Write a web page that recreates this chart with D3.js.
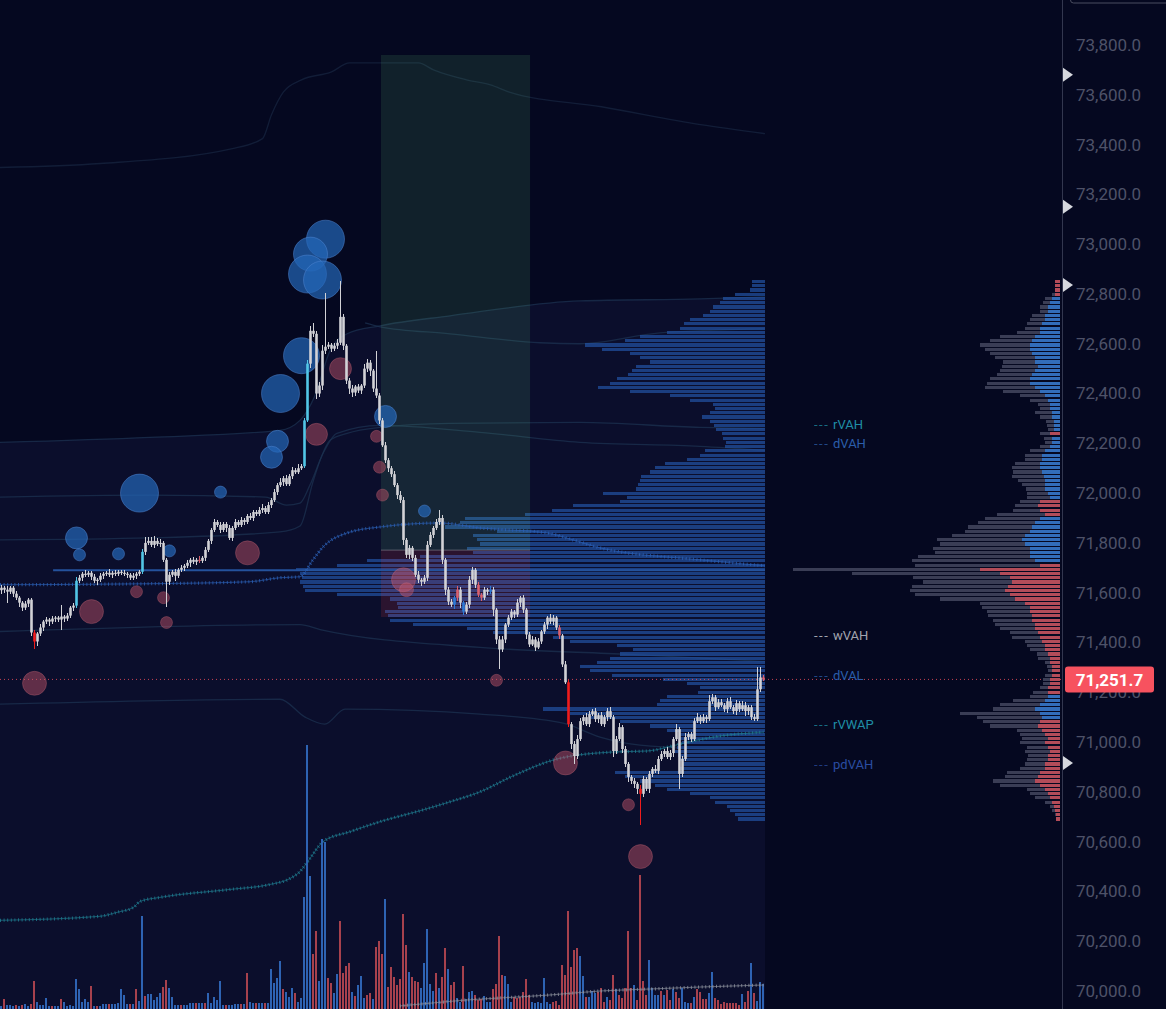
<!DOCTYPE html>
<html lang="en">
<head>
<meta charset="UTF-8">
<title>Session profile chart</title>
<script src="https://d3js.org/d3.v7.min.js"></script>
<style>
  html, body { margin: 0; padding: 0; background: #050820; }
  svg { display: block; }
</style>
</head>
<body>
<div id="chart"></div>
<script>
// ---------- data ----------
var firstOpen = 71610;
var closes = [
  71620,71612,71604,71620,71596,71580,71560,71540,71556,71572,
  71440,71404,71436,71460,71484,71492,71484,71496,71500,71492,
  71504,71496,71508,71540,71548,71648,71660,71676,71672,71680,
  71664,71648,71652,71668,71676,71680,71672,71680,71676,71684,
  71680,71676,71672,71660,71668,71676,71684,71764,71800,71808,
  71792,71808,71796,71800,71732,71644,71672,71684,71668,71692,
  71700,71708,71720,71732,71724,71732,71728,71740,71772,71808,
  71852,71884,71872,71852,71876,71860,71820,71860,71884,71872,
  71892,71884,71908,71900,71924,71916,71932,71940,71924,71952,
  71972,72004,72032,72044,72060,72036,72068,72092,72084,72100,
  72108,72292,72520,72652,72640,72400,72432,72572,72588,72596,
  72580,72592,72604,72708,72592,72452,72420,72404,72428,72412,
  72432,72500,72524,72492,72420,72392,72292,72192,72132,72100,
  72076,72032,71992,71972,71812,71752,71780,71740,71672,71652,
  71644,71660,71792,71832,71860,71884,71900,71732,71612,71564,
  71552,71580,71612,71560,71524,71552,71652,71692,71632,71592,
  71580,71612,71604,71612,71532,71412,71372,71412,71472,71500,
  71524,71512,71560,71580,71532,71432,71392,71412,71380,71404,
  71444,71472,71500,71484,71500,71460,71428,71312,71240,71072,
  70992,70944,71012,71084,71100,71072,71112,71124,71092,71108,
  71072,71100,71124,71100,70964,71012,71060,70972,70912,70860,
  70844,70832,70812,70792,70852,70812,70872,70892,70884,70932,
  70952,70964,70940,70956,71012,71052,70872,70932,71020,71032,
  71012,71084,71100,71084,71100,71092,71164,71180,71140,71160,
  71148,71132,71164,71140,71124,71156,71132,71148,71124,71140,
  71100,71092,71212,71260,71251.7
];
var upWick = [
  12,8,16,8,8,12,8,8,12,8,  8,12,8,16,8,12,8,12,8,8,
  48,8,12,8,12,16,12,8,16,8,  8,12,8,12,8,8,16,8,12,8,
  8,12,8,8,12,8,8,12,24,16,  16,20,12,16,8,8,12,8,12,8,
  12,8,12,8,12,8,16,8,12,8,  8,12,8,12,8,8,12,8,12,8,
  12,8,8,12,8,8,12,16,8,12,  8,12,8,16,8,12,8,12,8,16,
  8,8,16,20,32,12,16,24,216,12,  8,12,16,144,12,8,12,16,8,12,
  8,20,16,12,8,150,12,8,12,8,  8,12,8,16,12,8,12,8,12,16,
  8,12,16,12,8,12,32,12,8,12,  12,8,16,12,8,12,16,12,8,12,
  8,12,8,16,12,8,12,16,8,12,  12,8,16,8,12,8,12,16,8,12,
  8,12,8,16,12,8,12,8,12,8,  8,12,16,12,8,16,12,8,12,8,
  12,8,12,16,8,12,16,8,12,8,  8,12,8,16,12,8,12,8,16,12,
  12,8,16,12,8,20,8,12,16,8,  8,12,16,8,12,8,24,12,8,12,
  12,8,12,16,8,12,8,16,12,8,  8,12,88,40,8
];
var lowWick = [
  16,12,44,8,12,8,16,12,8,12,  12,32,20,8,12,8,16,8,12,8,
  40,12,8,8,12,8,8,12,8,8,  12,8,16,8,12,8,8,12,8,8,
  8,8,12,8,8,12,8,8,12,8,  8,12,8,12,8,100,12,8,20,8,
  8,12,8,16,8,12,8,8,12,8,  12,8,8,12,8,16,8,12,8,8,
  8,12,8,8,12,8,8,12,8,8,  12,8,12,8,16,8,8,12,8,8,
  8,8,8,16,12,20,12,16,12,8,  12,8,12,8,16,12,20,16,12,8,
  12,8,12,20,12,8,16,8,12,16,  12,8,16,12,20,12,16,12,8,12,
  16,8,12,8,12,8,12,16,20,12,  8,16,12,20,12,8,12,16,12,8,
  12,8,12,8,24,20,80,12,16,8,  8,12,8,16,12,20,12,8,16,8,
  12,8,16,8,12,8,16,12,8,12,  20,32,12,8,16,8,12,8,12,16,
  8,12,16,8,24,12,8,16,12,20,  12,16,20,124,12,8,16,12,8,12,
  8,12,8,12,16,8,60,12,8,12,  12,8,8,12,8,16,8,12,16,8,
  8,12,16,8,12,16,12,8,20,16,  12,8,8,12,8
];
// signed volume: positive = buy bar, negative = sell bar
var volumes = [
  3,-10,4,4,3,-4,3,-4,5,3,  -5,-28,7,4,4,11,3,-3,3,3,
  -10,7,3,4,3,30,20,7,10,7,  -23,3,-3,3,5,5,-5,5,5,6,
  20,14,5,-5,5,-20,8,93,-13,15,  15,9,12,16,-22,-29,21,12,4,4,
  -4,4,4,6,6,-6,6,6,-6,16,  6,12,9,28,4,-4,4,4,5,5,
  -5,5,-36,7,6,-6,6,6,-6,6,  40,26,31,48,-20,17,12,21,-16,7,
  11,112,264,133,-55,-78,28,170,167,-31,  -26,16,35,-88,-36,-43,-46,17,-13,24,
  33,11,-14,-16,10,-62,-68,-55,110,-22,  -42,-32,-24,-30,-95,-64,37,-32,-28,-27,
  21,46,80,25,18,-36,21,-32,-61,40,  -24,-27,11,7,-43,10,17,18,-14,-9,
  -10,13,7,7,-20,-25,-73,-34,33,25,  7,-12,-11,-12,-17,-30,-14,7,6,7,
  6,31,7,5,-7,-8,-4,-44,-34,-98,  -42,-59,-61,53,33,-12,12,18,16,-17,
  -21,-7,12,-9,-34,20,-14,-11,-21,-78,  -21,24,-9,-134,-28,-14,49,21,14,14,
  -18,14,-19,-9,20,-17,-11,21,7,6,  -6,12,-20,-17,-10,-10,16,37,-11,-9,
  -5,-7,-6,-6,-6,-6,-4,15,-7,-18,  46,-16,8,27,25
];
var cyanBars = [25, 47, 101, 102];
var redBars = [11, 189, 213];
var softRedBars = [66, 152, 159, 160, 186, 254];
var blueBars = [151, 154, 163];

// volume profiles, one row per 17 points from 70,680 upward
var profileBase = 70680, profileStep = 17;
var sessionProfile = [
  27,30,35,38,50,55,75,98,110,125,  140,150,85,83,85,87,90,88,83,85,
  85,98,115,145,175,195,222,108,105,98,  67,65,78,102,153,175,185,168,155,145,
  132,148,195,212,272,298,352,375,377,380,  367,368,375,428,460,462,465,463,465,469,
  428,398,345,292,298,285,288,292,268,320,  305,300,240,213,192,145,138,162,129,127,
  125,124,115,110,100,78,65,60,40,39,  42,43,49,51,55,63,55,50,52,75,
  95,135,167,155,148,137,133,129,115,125,  135,163,180,140,125,98,85,81,75,62,
  55,52,45,42,30,15,13,13
];
var dayProfile = [
  4,5,8,10,15,25,30,33,60,67,  55,53,40,35,33,32,35,33,40,38,
  40,43,70,77,83,100,67,60,47,30,  27,20,17,17,15,12,13,15,22,23,
  30,33,35,48,50,60,65,67,72,73,  78,80,120,145,150,148,137,147,208,267,
  145,148,142,125,127,120,123,108,95,92,  82,75,63,47,45,40,33,33,34,38,
  42,48,47,48,45,35,35,30,20,15,  16,20,12,13,14,20,25,20,22,30,
  40,57,75,73,70,63,60,58,57,65,  70,75,80,70,60,43,35,33,30,28,
  20,20,17,15,8,5,5,5
];
var dayDelta = [
  -4,-4,-5,-6,-8,-10,-12,-15,-20,-25,  -22,-20,-15,-15,-12,-12,-10,-12,-15,-12,
  -15,-18,-22,-20,18,20,25,20,15,12,  -12,-12,-10,-10,-8,-8,-8,-10,-10,-12,
  -15,-15,-18,-20,-22,-25,-25,-28,-28,-30,  -30,-35,-45,-50,-55,-52,-48,-50,-60,-80,
  -20,25,30,30,30,35,38,35,30,28,  25,20,-15,-20,-22,-20,10,12,15,15,
  15,16,18,20,20,18,18,15,10,8,  8,-10,6,6,6,8,8,10,10,12,
  15,20,25,30,30,28,25,22,25,25,  28,30,30,28,25,20,20,18,15,15,
  12,12,10,8,-5,-5,-5,-5
];
var pocPrice = 71690, pocFromBar = 17.2;

var priceTicks = d3.range(70000, 73801, 200);
var lastPrice = 71251.7;
var markerPrices = [73680, 73150, 72836, 70916];
var levelNames = ["rVAH", "dVAH", "wVAH", "dVAL", "rVWAP", "pdVAH"];
var levelPrices = [72274, 72201, 71430, 71269, 71069, 70912];

// bubbles: [bar, price, volume]
var buyBubbles = [
  [108,73020,361],[103,72960,289],[102,72880,361],[107,72856,361],[100,72552,324],
  [93,72400,361],[92,72208,121],[90,72144,121],[46,72000,361],[73,72004,36],
  [25,71820,121],[26,71752,36],[39,71756,36],[56,71768,36],[128,72308,121],[141,71928,36]
];
var sellBubbles = [
  [113,72500,121],[105,72236,121],[125,72228,36],[126,72104,36],[127,71992,36],
  [82,71760,144],[30,71524,144],[45,71604,36],[54,71580,36],[55,71480,36],
  [11,71236,144],[134,71652,144],[135,71612,49],[165,71248,36],[188,70916,144],
  [209,70748,36],[213,70540,144]
];

// anchored band lines: [bar, price]
var bandTop = [[-0.5,73308],[33,73324],[77,73384],[87,73424],[90,73520],[94,73612],[100,73660],[110,73692],[116,73728],[139,73728],[144,73700],[155,73660],[163,73640],[169,73612],[200,73552],[233,73480],[254.5,73444]];
var bandUpper = [[-0.5,72204],[49.5,72224],[92.8,72252],[99.5,72292],[104.5,72392],[109.5,72572],[115.2,72640],[126.2,72672],[149.5,72712],[192.8,72772],[232.8,72780],[254.5,72788]];
var bandUpper2 = [[121.2,72684],[126.2,72668],[149.5,72640],[179.5,72604],[192.8,72600],[219.5,72644],[254.5,72660]];
var bandMid = [[-0.5,71812],[49.5,71820],[92.8,71844],[99.5,71868],[103.8,72044],[106.2,72132],[109.5,72212],[115.2,72240],[126.2,72264],[149.5,72280],[192.8,72284],[232.8,72264],[254.5,72260]];
var bandMid2 = [[-0.5,71984],[49.5,71992],[88,71984],[95,71952],[99.5,71960],[102.8,72032],[107.2,72160],[111.8,72240],[126.2,72272],[159.5,72244],[192.8,72204],[232.8,72188],[254.5,72172]];
var bandLow = [[-0.5,71444],[99.5,71472],[106.2,71452],[159.5,71380],[209.5,71352],[254.5,71324]];
var bandLow2 = [[-0.5,71152],[92.8,71172],[101.2,71100],[107.8,71072],[114.5,71132],[159.5,71112],[187.2,71076],[199.5,71020],[212.8,70988],[254.5,70964]];

var vwapDay = [[-0.5,71632],[49.5,71636],[82.8,71644],[92.8,71660],[99.5,71664],[103.8,71732],[107.2,71784],[115.2,71840],[126.2,71864],[146.2,71880],[159.5,71860],[181.8,71840],[190.5,71812],[199.5,71780],[232.8,71732],[254.5,71708]];
var vwapRange = [[-0.5,70284],[32.8,70300],[38.5,70316],[44,70336],[46.2,70360],[52.8,70376],[76.2,70408],[89.5,70428],[96.2,70452],[99.5,70480],[102.8,70532],[107.2,70600],[116.2,70640],[127.2,70684],[139.5,70724],[149.5,70760],[159.5,70800],[170.5,70864],[185.2,70932],[203.8,70960],[215.2,70964],[226.2,70992],[237.2,71020],[254,71040]];
var vwapWeek = [[132.8,69940],[143.8,69952],[155.2,69964],[166.2,69972],[182.8,69984],[199.5,70000],[216.2,70008],[232.8,70016],[254,70024]];

var tradeStart = 126.5, tradeEnd = 176.2;
var tradeEntry = 71771, tradeTarget = 73760, tradeStop = 71502;

// ---------- layout ----------
var W = 1166, H = 1009;
var x = d3.scaleLinear().domain([-0.5, 254.5]).range([0, 765]);
var y = d3.scaleLinear().domain([70000, 73800]).range([991, 45]);
var volY = d3.scaleLinear().domain([0, 280]).range([H, H - 280]);
var sessionX = d3.scaleLinear().domain([0, 500]).range([765, 265]);
var dayX = d3.scaleLinear().domain([0, 300]).range([1060, 760]);
var rad = d3.scaleSqrt().domain([0, 400]).range([0, 20]);

var levelColor = { rVAH: "#1f8ea6", dVAH: "#2b5eaa", wVAH: "#a2a5af", dVAL: "#2b5eaa", rVWAP: "#1f8ea6", pdVAH: "#2a4da2" };

var svg = d3.select("#chart").append("svg").attr("width", W).attr("height", H);
svg.append("rect").attr("width", W).attr("height", H).attr("fill", "#050820");

var line = d3.line().x(function(d) { return x(d[0]); }).y(function(d) { return y(d[1]); }).curve(d3.curveMonotoneX);

// session shading below the upper band
svg.append("path").datum(bandUpper)
    .attr("d", d3.area().x(function(d) { return x(d[0]); }).y0(H).y1(function(d) { return y(d[1]); }).curve(d3.curveMonotoneX))
    .attr("fill", "#0b0e2c");

svg.append("path").datum(bandTop).attr("d", line)
    .attr("fill", "none").attr("stroke", "#1a2c48").attr("stroke-width", 1.3).attr("opacity", 0.6);
[bandUpper, bandUpper2, bandMid, bandMid2, bandLow, bandLow2].forEach(function(b) {
    svg.append("path").datum(b).attr("d", line)
        .attr("fill", "none").attr("stroke", "#1c3250").attr("stroke-width", 1.3).attr("opacity", 0.75);
});

// session volume profile
var rows = d3.range(sessionProfile.length);
function rowTop(k) { return y(profileBase + profileStep * (k + 1)); }
function rowH(k) { return y(profileBase + profileStep * k) - rowTop(k) - 1.1; }

svg.append("g").attr("shape-rendering", "crispEdges")
  .selectAll("rect").data(rows).join("rect")
    .attr("x", function(k) { return sessionX(sessionProfile[k]); })
    .attr("width", function(k) { return 765 - sessionX(sessionProfile[k]); })
    .attr("y", rowTop).attr("height", rowH)
    .attr("fill", "#2456a8").attr("opacity", 0.68);

// trade box
svg.append("rect")
    .attr("x", x(tradeStart)).attr("width", x(tradeEnd) - x(tradeStart))
    .attr("y", y(tradeTarget)).attr("height", y(tradeEntry) - y(tradeTarget))
    .attr("fill", "#78f08c").attr("fill-opacity", 0.11);
svg.append("rect")
    .attr("x", x(tradeStart)).attr("width", x(tradeEnd) - x(tradeStart))
    .attr("y", y(tradeEntry)).attr("height", y(tradeStop) - y(tradeEntry))
    .attr("fill", "#f23645").attr("fill-opacity", 0.14);
svg.append("line")
    .attr("x1", x(tradeStart)).attr("x2", x(tradeEnd))
    .attr("y1", y(tradeEntry)).attr("y2", y(tradeEntry))
    .attr("stroke", "#9a9ca8").attr("stroke-opacity", 0.5);

// point of control ray
svg.append("line")
    .attr("x1", x(pocFromBar)).attr("x2", 765)
    .attr("y1", y(pocPrice)).attr("y2", y(pocPrice))
    .attr("stroke", "#24529c").attr("stroke-width", 2);

// vwap lines drawn as cross markers
function crossLine(data, color) {
    svg.append("path").datum(data).attr("d", line).attr("fill", "none")
        .attr("stroke", color).attr("stroke-width", 1).attr("opacity", 0.65);
    svg.append("path").datum(data).attr("d", line).attr("fill", "none")
        .attr("stroke", color).attr("stroke-width", 3.2).attr("stroke-dasharray", "1 2.6").attr("opacity", 0.8);
}
crossLine(vwapDay, "#2b5fb4");
crossLine(vwapRange, "#1f7d90");

// volume bars
svg.append("g").attr("shape-rendering", "crispEdges")
  .selectAll("rect").data(volumes).join("rect")
    .attr("x", function(v, i) { return Math.floor(x(i)) - 1; })
    .attr("width", 2)
    .attr("y", function(v) { return volY(Math.abs(v)); })
    .attr("height", function(v) { return H - volY(Math.abs(v)); })
    .attr("fill", function(v) { return v >= 0 ? "#3068bb" : "#b0444f"; })
    .attr("opacity", 0.95);

crossLine(vwapWeek, "#8d929e");

// last price line
svg.append("line")
    .attr("x1", 0).attr("x2", 1062).attr("y1", y(lastPrice)).attr("y2", y(lastPrice))
    .attr("stroke", "#f7525f").attr("stroke-dasharray", "1 3").attr("opacity", 0.8);

// bubbles
svg.append("g").selectAll("circle").data(buyBubbles).join("circle")
    .attr("cx", function(d) { return x(d[0]); }).attr("cy", function(d) { return y(d[1]); })
    .attr("r", function(d) { return rad(d[2]); })
    .attr("fill", "#2466b8").attr("fill-opacity", 0.7)
    .attr("stroke", "#4f86d2").attr("stroke-opacity", 0.5);
svg.append("g").selectAll("circle").data(sellBubbles).join("circle")
    .attr("cx", function(d) { return x(d[0]); }).attr("cy", function(d) { return y(d[1]); })
    .attr("r", function(d) { return rad(d[2]); })
    .attr("fill", "#c8566a").attr("fill-opacity", 0.45)
    .attr("stroke", "#d8707e").attr("stroke-opacity", 0.3);

// candles
var candles = closes.map(function(c, i) {
    var o = i ? closes[i - 1] : firstOpen;
    return { i: i, o: o, c: c, h: Math.max(o, c) + upWick[i], l: Math.min(o, c) - lowWick[i] };
});
function candleColor(d) {
    if (cyanBars.indexOf(d.i) >= 0) return "#52c6e6";
    if (redBars.indexOf(d.i) >= 0) return "#f01c1c";
    if (softRedBars.indexOf(d.i) >= 0) return "#d9606e";
    if (blueBars.indexOf(d.i) >= 0) return "#2e7ad6";
    return "#d2d2d6";
}
var gC = svg.append("g");
gC.selectAll("line").data(candles).join("line")
    .attr("shape-rendering", "crispEdges")
    .attr("x1", function(d) { return Math.floor(x(d.i)) + 0.5; })
    .attr("x2", function(d) { return Math.floor(x(d.i)) + 0.5; })
    .attr("y1", function(d) { return y(d.h); }).attr("y2", function(d) { return y(d.l); })
    .attr("stroke", candleColor).attr("stroke-width", 1);
gC.selectAll("rect").data(candles).join("rect")
    .attr("x", function(d) { return Math.floor(x(d.i)) - 0.8; })
    .attr("width", 2.6)
    .attr("y", function(d) { return y(Math.max(d.o, d.c)); })
    .attr("height", function(d) { return Math.max(1.2, Math.abs(y(d.o) - y(d.c))); })
    .attr("fill", candleColor);

// day profile on the right with delta
var gD = svg.append("g").attr("shape-rendering", "crispEdges");
gD.selectAll("rect.tot").data(rows).join("rect").attr("class", "tot")
    .attr("x", function(k) { return dayX(dayProfile[k]); })
    .attr("width", function(k) { return 1060 - dayX(dayProfile[k]); })
    .attr("y", rowTop).attr("height", rowH)
    .attr("fill", "#3a3d55");
gD.selectAll("rect.dlt").data(rows).join("rect").attr("class", "dlt")
    .attr("x", function(k) { return dayX(Math.abs(dayDelta[k])); })
    .attr("width", function(k) { return 1060 - dayX(Math.abs(dayDelta[k])); })
    .attr("y", rowTop).attr("height", rowH)
    .attr("fill", function(k) { return dayDelta[k] >= 0 ? "#2f7fe0" : "#e2525c"; })
    .attr("opacity", 0.72);

// level labels
var lv = svg.append("g").style("font", "13px Roboto, sans-serif");
levelNames.forEach(function(n, j) {
    var t = lv.append("text").attr("x", 814).attr("y", y(levelPrices[j])).attr("dy", "0.35em")
        .attr("fill", levelColor[n]);
    t.append("tspan").text("---").style("letter-spacing", "1.5px").attr("opacity", n === "wVAH" ? 1 : 0.75);
    t.append("tspan").attr("x", 833).text(n);
});

// price axis
svg.append("line").attr("x1", 1062.5).attr("x2", 1062.5).attr("y1", 0).attr("y2", H)
    .attr("stroke", "#33374f");
var axisG = svg.append("g").attr("transform", "translate(1062,0)")
    .call(d3.axisRight(y).tickValues(priceTicks).tickFormat(d3.format(",.1f")).tickSize(0).tickPadding(14));
axisG.select(".domain").remove();
axisG.selectAll("text").attr("fill", "#4e5268").style("font", "17px Roboto, sans-serif");

svg.append("rect").attr("x", 1070.5).attr("y", -10).attr("width", 100).attr("height", 13).attr("rx", 3)
    .attr("fill", "none").attr("stroke", "#4a4d60");

svg.append("g").selectAll("path").data(markerPrices).join("path")
    .attr("d", function(p) { var c = y(p); return "M1063," + (c - 7) + "L1073," + c + "L1063," + (c + 7) + "Z"; })
    .attr("fill", "#d6d8de");

// last price tag
var ly = y(lastPrice);
svg.append("rect").attr("x", 1065).attr("y", ly - 13).attr("width", 89).attr("height", 26).attr("rx", 3)
    .attr("fill", "#f7525f");
svg.append("text").attr("x", 1109.5).attr("y", ly).attr("dy", "0.36em").attr("text-anchor", "middle")
    .style("font", "bold 17px Roboto, sans-serif").attr("fill", "#ffffff")
    .text(d3.format(",.1f")(lastPrice));
</script>
</body>
</html>
